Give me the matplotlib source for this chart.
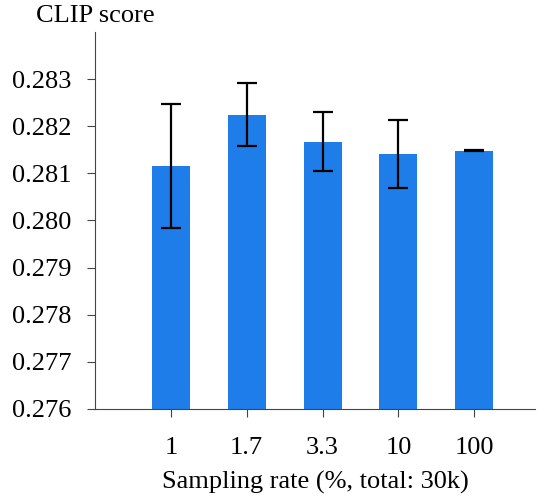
import matplotlib
matplotlib.use("Agg")
from matplotlib import pyplot as plt

# data
rates = ['1', '1.7', '3.3', '10', '100']
scores = [0.28116, 0.28224, 0.28167, 0.28141, 0.28148]
errs = [0.00132, 0.00067, 0.00063, 0.00073, 0.00001]

serif = ['Liberation Serif', 'DejaVu Serif']
plt.rcParams['font.family'] = serif
plt.rcParams['font.size'] = 19

fig = plt.figure(figsize=(5.44, 4.99), dpi=100)
ax = fig.add_axes([0.1746, 0.1804, 0.8089, 0.7555])

x = list(range(len(rates)))
ax.bar(x, scores, width=0.5, color='#1e7de8')
ax.errorbar(x, scores, yerr=errs, fmt='none', ecolor='black',
            elinewidth=1.6, capsize=7.5, capthick=1.6)

ax.set_ylim(0.276, 0.284)
ax.set_xlim(-1, 4.8)
yt = [0.276, 0.277, 0.278, 0.279, 0.280, 0.281, 0.282, 0.283]
ax.set_yticks(yt)
ax.set_yticklabels(['%.3f' % v for v in yt], fontfamily=serif, fontsize=19)
ax.set_xticks(x)
ax.set_xticklabels(rates, fontfamily=serif, fontsize=19)
ax.tick_params(length=6, width=0.8, color='#444444', pad=11)
ax.tick_params(axis='x', pad=14)

for s in ['top', 'right']:
    ax.spines[s].set_visible(False)
for s in ['left', 'bottom']:
    ax.spines[s].set_color('#444444')
    ax.spines[s].set_linewidth(0.8)

ax.set_xlabel('Sampling rate (%, total: 30k)', labelpad=9, fontfamily=serif)
fig.text(0.176, 0.968, 'CLIP score', ha='center', va='center', fontfamily=serif)

plt.savefig('out.png', dpi=100)
